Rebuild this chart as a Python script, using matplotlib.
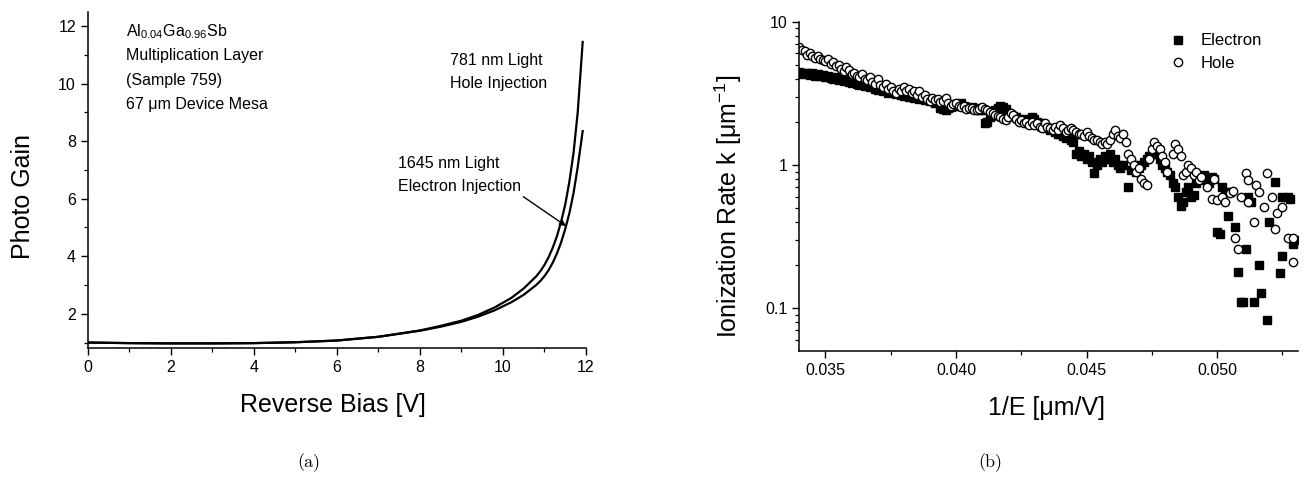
import matplotlib
matplotlib.use("Agg")
import matplotlib.pyplot as plt
from matplotlib.ticker import MultipleLocator, FixedLocator, FixedFormatter, LogLocator, NullFormatter

plt.rcParams['font.family'] = ['Liberation Sans', 'DejaVu Sans']
plt.rcParams['mathtext.fontset'] = 'custom'
plt.rcParams['mathtext.rm'] = 'Liberation Sans'
plt.rcParams['mathtext.it'] = 'Liberation Sans:italic'
plt.rcParams['axes.linewidth'] = 1.1

# (a) photo gain vs reverse bias
bias_hole = [0, 1, 2, 3, 4, 5, 6, 7, 8, 8.5, 9, 9.4, 9.8, 10.2, 10.5, 10.8, 10.9, 11.0, 11.1, 11.2,
             11.3, 11.4, 11.5, 11.6, 11.7, 11.8, 11.92]
gain_hole = [1.0, 0.98, 0.97, 0.97, 0.98, 1.01, 1.07, 1.2, 1.42, 1.58, 1.76, 1.96, 2.22, 2.55, 2.88, 3.3,
             3.48, 3.7, 3.97, 4.3, 4.7, 5.2, 5.8, 6.6, 7.6, 9.0, 11.45]
bias_elec = [0, 1, 2, 3, 4, 5, 6, 7, 8, 8.5, 9, 9.4, 9.8, 10.2, 10.5, 10.8, 10.9, 11.0, 11.1, 11.2,
             11.3, 11.4, 11.5, 11.6, 11.7, 11.8, 11.92]
gain_elec = [1.0, 0.98, 0.97, 0.97, 0.98, 1.01, 1.07, 1.2, 1.41, 1.55, 1.72, 1.90, 2.12, 2.40, 2.66, 3.0,
             3.14, 3.31, 3.52, 3.78, 4.1, 4.48, 4.95, 5.5, 6.2, 7.1, 8.35]

# (b) ionization rates vs 1/E
inv_e_elec = [0.0340, 0.0341, 0.0342, 0.0343, 0.0344, 0.0345, 0.0346, 0.0347, 0.0348, 0.0349,
              0.0350, 0.0351, 0.0352, 0.0353, 0.0354, 0.0355, 0.0356, 0.0357, 0.0358, 0.0359,
              0.0360, 0.0361, 0.0362, 0.0363, 0.0364, 0.0365, 0.0366, 0.0367, 0.0368, 0.0369,
              0.0370, 0.0371, 0.0372, 0.0373, 0.0374, 0.0375, 0.0376, 0.0377, 0.0378, 0.0379,
              0.0380, 0.0381, 0.0382, 0.0383, 0.0384, 0.0385, 0.0386, 0.0387, 0.0388, 0.0389,
              0.0390, 0.0391, 0.0392, 0.0393, 0.0394, 0.0395, 0.0396, 0.0397, 0.0398, 0.0399,
              0.0400, 0.0401, 0.0402, 0.0403, 0.0404, 0.0405, 0.0406, 0.0407, 0.0408, 0.0409,
              0.0410, 0.0411, 0.0412, 0.0413, 0.0414, 0.0415, 0.0416, 0.0417, 0.0418, 0.0419,
              0.0420, 0.0421, 0.0422, 0.0423, 0.0424, 0.0425, 0.0426, 0.0427, 0.0428, 0.0429,
              0.0430, 0.0431, 0.0432, 0.0433, 0.0434, 0.0435, 0.0436, 0.0437, 0.0438, 0.0439,
              0.0440, 0.0441, 0.0442, 0.0443, 0.0444, 0.0445, 0.0446, 0.0447, 0.0448, 0.0449,
              0.0450, 0.0451, 0.0452, 0.0453, 0.0454, 0.0455, 0.0456, 0.0457, 0.0458, 0.0459,
              0.0460, 0.0461, 0.0462, 0.0463, 0.0464, 0.0466, 0.0467, 0.0468, 0.0469, 0.0470,
              0.0471, 0.0472, 0.0473, 0.0474, 0.0475, 0.0476, 0.0477, 0.0478, 0.0479, 0.0480,
              0.0481, 0.0482, 0.0483, 0.0484, 0.0485, 0.0486, 0.0487, 0.0488, 0.0489, 0.0490,
              0.0491, 0.0492, 0.0493, 0.0494, 0.0495, 0.0496, 0.0497, 0.0498, 0.0499,
              0.0500, 0.0501, 0.0502, 0.0503, 0.0504, 0.0505, 0.0507, 0.0508, 0.0509, 0.0510,
              0.0511, 0.0512, 0.0513, 0.0514, 0.0516, 0.0517, 0.0519, 0.0520, 0.0522, 0.0524,
              0.0525, 0.0525, 0.0527, 0.0528, 0.0529, 0.0530]
k_elec = [4.45, 4.3, 4.4, 4.35, 4.25, 4.4, 4.2, 4.3, 4.15, 4.25,
          4.1, 4.2, 4.05, 3.95, 4.1, 3.9, 4.0, 3.85, 3.95, 3.8,
          3.75, 3.85, 3.7, 3.6, 3.75, 3.55, 3.65, 3.5, 3.6, 3.4,
          3.35, 3.45, 3.3, 3.4, 3.2, 3.3, 3.25, 3.15, 3.3, 3.1,
          3.05, 3.15, 3.0, 3.1, 2.95, 3.0, 2.9, 2.95, 2.85, 2.9,
          2.8, 2.85, 2.7, 2.75, 2.5, 2.45, 2.4, 2.5, 2.55, 2.6,
          2.6, 2.65, 2.7, 2.6, 2.55, 2.5, 2.55, 2.45, 2.5, 2.4,
          2.4, 1.95, 2.0, 2.15, 2.3, 2.4, 2.5, 2.6, 2.55, 2.45,
          2.3, 2.25, 2.2, 2.15, 2.1, 2.05, 2.0, 2.1, 2.05, 2.15,
          2.1, 2.0, 1.95, 1.9, 1.85, 1.8, 1.75, 1.8, 1.7, 1.65,
          1.65, 1.6, 1.55, 1.6, 1.5, 1.45, 1.2, 1.25, 1.15, 1.2,
          1.1, 1.15, 1.05, 0.88, 1.0, 1.1, 1.05, 1.15, 1.1, 1.2,
          1.05, 1.1, 1.0, 0.95, 1.0, 0.7, 0.92, 1.0, 0.9, 0.95,
          1.0, 1.05, 1.1, 1.15, 1.2, 1.3, 1.2, 1.1, 1.0, 0.95,
          0.9, 0.85, 0.75, 0.7, 0.6, 0.52, 0.55, 0.65, 0.7, 0.6,
          0.62, 0.75, 0.8, 0.78, 0.85, 0.8, 0.75, 0.82, 0.8,
          0.34, 0.33, 0.7, 0.65, 0.44, 0.65, 0.37, 0.18, 0.11, 0.11,
          0.26, 0.6, 0.55, 0.11, 0.2, 0.128, 0.083, 0.4, 0.76, 0.176,
          0.23, 0.6, 0.6, 0.58, 0.28, 0.3]

inv_e_hole = [0.0340, 0.0341, 0.0342, 0.0343, 0.0344, 0.0345, 0.0346, 0.0347, 0.0348, 0.0349,
              0.0350, 0.0351, 0.0352, 0.0353, 0.0354, 0.0355, 0.0356, 0.0357, 0.0358, 0.0359,
              0.0360, 0.0361, 0.0362, 0.0363, 0.0364, 0.0365, 0.0366, 0.0367, 0.0368, 0.0369,
              0.0370, 0.0371, 0.0372, 0.0373, 0.0374, 0.0375, 0.0376, 0.0377, 0.0378, 0.0379,
              0.0380, 0.0381, 0.0382, 0.0383, 0.0384, 0.0385, 0.0386, 0.0387, 0.0388, 0.0389,
              0.0390, 0.0391, 0.0392, 0.0393, 0.0394, 0.0395, 0.0396, 0.0397, 0.0398, 0.0399,
              0.0400, 0.0401, 0.0402, 0.0403, 0.0404, 0.0405, 0.0406, 0.0407, 0.0408, 0.0409,
              0.0410, 0.0411, 0.0412, 0.0413, 0.0414, 0.0415, 0.0416, 0.0417, 0.0418, 0.0419,
              0.0420, 0.0421, 0.0422, 0.0423, 0.0424, 0.0425, 0.0426, 0.0427, 0.0428, 0.0429,
              0.0430, 0.0431, 0.0432, 0.0433, 0.0434, 0.0435, 0.0436, 0.0437, 0.0438, 0.0439,
              0.0440, 0.0441, 0.0442, 0.0443, 0.0444, 0.0445, 0.0446, 0.0447, 0.0448, 0.0449,
              0.0450, 0.0451, 0.0452, 0.0453, 0.0454, 0.0455, 0.0456, 0.0457, 0.0458, 0.0459,
              0.0460, 0.0461, 0.0462, 0.0463, 0.0464, 0.0465, 0.0466, 0.0467, 0.0468, 0.0469,
              0.0470, 0.0471, 0.0472, 0.0473, 0.0474, 0.0475, 0.0476, 0.0477, 0.0478, 0.0479,
              0.0480, 0.0481, 0.0483, 0.0484, 0.0485, 0.0486, 0.0487, 0.0488, 0.0489, 0.0490,
              0.0491, 0.0492, 0.0493, 0.0494, 0.0496, 0.0498, 0.0499, 0.0500, 0.0502, 0.0503,
              0.0505, 0.0506, 0.0507, 0.0508, 0.0509, 0.0511, 0.0512, 0.0512, 0.0514, 0.0515,
              0.0516, 0.0518, 0.0519, 0.0521, 0.0522, 0.0523, 0.0525, 0.0527, 0.0529, 0.0529]
k_hole = [6.7, 6.3, 6.2, 5.9, 6.0, 5.8, 5.6, 5.8, 5.5, 5.4,
          5.3, 5.5, 5.1, 5.2, 4.9, 5.0, 4.7, 4.5, 4.8, 4.6,
          4.3, 4.4, 4.2, 4.1, 4.3, 4.0, 3.9, 4.1, 3.8, 3.7,
          4.0, 3.6, 3.5, 3.7, 3.4, 3.5, 3.3, 3.2, 3.4, 3.3,
          3.5, 3.3, 3.4, 3.2, 3.3, 3.1, 3.3, 3.0, 3.1, 2.9,
          2.8, 2.95, 2.85, 2.9, 2.75, 2.8, 2.95, 2.7, 2.6, 2.65,
          2.7, 2.6, 2.55, 2.6, 2.45, 2.5, 2.5, 2.4, 2.4, 2.45,
          2.55, 2.45, 2.4, 2.35, 2.3, 2.25, 2.2, 2.15, 2.1, 2.05,
          2.15, 2.3, 2.25, 2.1, 2.0, 2.05, 1.95, 2.0, 1.9, 2.0,
          1.9, 1.95, 1.85, 1.8, 1.95, 1.85, 1.8, 1.75, 1.85, 1.75,
          1.9, 1.8, 1.7, 1.75, 1.8, 1.75, 1.7, 1.65, 1.65, 1.6,
          1.7, 1.6, 1.55, 1.5, 1.5, 1.45, 1.4, 1.45, 1.4, 1.5,
          1.65, 1.75, 1.6, 1.55, 1.65, 1.45, 1.2, 1.1, 1.0, 0.9,
          0.95, 0.8, 0.75, 0.72, 1.1, 1.3, 1.45, 1.35, 1.3, 1.15,
          1.05, 0.9, 1.2, 1.4, 1.3, 1.15, 0.85, 0.9, 1.0, 0.95,
          0.85, 0.9, 0.78, 0.82, 0.7, 0.58, 0.8, 0.57, 0.6, 0.55,
          0.64, 0.66, 0.31, 0.26, 0.6, 0.88, 0.79, 0.55, 0.40, 0.73,
          0.65, 0.51, 0.88, 0.6, 0.36, 0.46, 0.51, 0.31, 0.31, 0.21]

fig = plt.figure(figsize=(13.04, 4.9), dpi=100)
ax1 = fig.add_axes([0.0673, 0.2892, 0.3821, 0.6869])
ax2 = fig.add_axes([0.6130, 0.2837, 0.3824, 0.6720])

# ---- panel (a)
ax1.plot(bias_hole, gain_hole, color='black', lw=1.6)
ax1.plot(bias_elec, gain_elec, color='black', lw=1.6)
ax1.set_xlim(0, 12)
ax1.set_ylim(0.8, 12.5)
ax1.xaxis.set_major_locator(MultipleLocator(2))
ax1.xaxis.set_minor_locator(MultipleLocator(1))
ax1.yaxis.set_major_locator(FixedLocator([2, 4, 6, 8, 10, 12]))
ax1.yaxis.set_minor_locator(FixedLocator([1, 3, 5, 7, 9, 11]))

txt = dict(fontsize=11.5, va='center', ha='left')
ax1.text(0.92, 11.79, r'Al$_{0.04}$Ga$_{0.96}$Sb', **txt)
ax1.text(0.92, 10.98, 'Multiplication Layer', **txt)
ax1.text(0.92, 10.12, '(Sample 759)', **txt)
ax1.text(0.92, 9.28, '67 μm Device Mesa', **txt)
ax1.text(8.73, 10.81, '781 nm Light', **txt)
ax1.text(8.73, 10.0, 'Hole Injection', **txt)
ax1.text(7.48, 7.23, '1645 nm Light', **txt)
ax1.text(7.48, 6.42, 'Electron Injection', **txt)
ax1.annotate('', xy=(11.52, 5.05), xytext=(10.49, 6.07),
             arrowprops=dict(arrowstyle='-|>', color='black', lw=1.0,
                             mutation_scale=9, shrinkA=0, shrinkB=0))

# ---- panel (b)
ax2.plot(inv_e_elec, k_elec, ls='none', marker='s', ms=6, mfc='black', mec='black',
         label='Electron')
ax2.plot(inv_e_hole, k_hole, ls='none', marker='o', ms=6, mfc='white', mec='black',
         mew=1.0, label='Hole')
ax2.set_yscale('log')
ax2.set_xlim(0.034, 0.0531)
ax2.set_ylim(0.0503, 10)
ax2.xaxis.set_major_locator(FixedLocator([0.035, 0.040, 0.045, 0.050]))
ax2.xaxis.set_major_formatter(FixedFormatter(['0.035', '0.040', '0.045', '0.050']))
ax2.xaxis.set_minor_locator(FixedLocator([0.0375, 0.0425, 0.0475, 0.0525]))
ax2.yaxis.set_major_locator(FixedLocator([0.1, 1, 10]))
ax2.yaxis.set_major_formatter(FixedFormatter(['0.1', '1', '10']))
ax2.yaxis.set_minor_locator(LogLocator(base=10, subs=range(2, 10)))
ax2.yaxis.set_minor_formatter(NullFormatter())
ax2.legend(loc='upper left', bbox_to_anchor=(0.715, 1.0), frameon=False, fontsize=12,
           handletextpad=0.8, labelspacing=0.45, borderaxespad=0.3, handlelength=1.2)

for ax in (ax1, ax2):
    ax.spines['top'].set_visible(False)
    ax.spines['right'].set_visible(False)
    ax.tick_params(which='major', direction='out', length=5, width=1.0, labelsize=11.5)
    ax.tick_params(which='minor', direction='out', length=3, width=0.9)

fig.text(23 / 1304, 1 - 196 / 490, 'Photo Gain', rotation=90, fontsize=18,
         ha='center', va='center')
fig.text(333 / 1304, 1 - 405 / 490, 'Reverse Bias [V]', fontsize=18, ha='center', va='center')
fig.text(728 / 1304, 1 - 206 / 490, 'Ionization Rate k [μm$^{-1}$]', rotation=90, fontsize=18,
         ha='center', va='center')
fig.text(1047 / 1304, 1 - 408 / 490, '1/E [μm/V]', fontsize=18, ha='center', va='center')

fig.text(309 / 1304, 1 - 463 / 490, '(a)', fontsize=13, family='cmr10', ha='center', va='center')
fig.text(990 / 1304, 1 - 463 / 490, '(b)', fontsize=13, family='cmr10', ha='center', va='center')

fig.savefig('out.png', dpi=100)
